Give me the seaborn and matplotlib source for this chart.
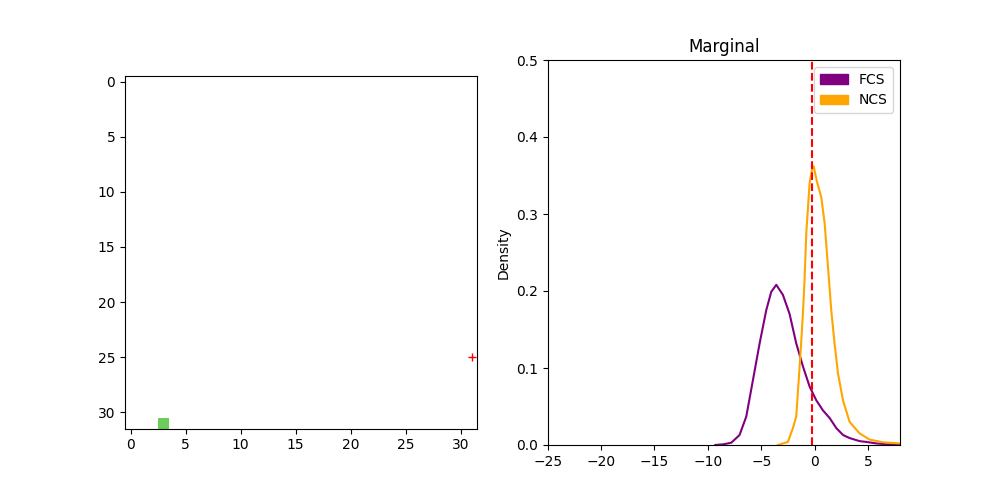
import numpy as np
import pandas as pd
import matplotlib
matplotlib.use("Agg")
import matplotlib.pyplot as plt
from matplotlib.patches import Patch
import seaborn as sns

# ---- data ----
grid_size = 32
goal_cell = (3, 31)          # (x, y) of coloured cell
goal_color = (108, 206, 90)
marker_point = (31, 25)       # red '+' marker

fcs_x = [-9.3, -8.5, -7.8, -7.03, -6.4, -5.78, -5.15, -4.53, -4.06, -3.59, -2.97,
         -2.34, -1.72, -1.09, -0.47, 0.16, 0.78, 1.41, 2.03, 2.66, 3.28, 4.22,
         4.84, 5.8, 6.7, 8.0]
fcs_y = [0.0, 0.001, 0.003, 0.013, 0.037, 0.084, 0.132, 0.175, 0.199, 0.208, 0.195,
         0.170, 0.132, 0.102, 0.076, 0.058, 0.045, 0.035, 0.022, 0.013, 0.009, 0.005,
         0.004, 0.002, 0.001, 0.0005]

ncs_x = [-3.44, -2.5, -2.03, -1.72, -1.56, -1.41, -1.25, -1.09, -0.94, -0.78, -0.47,
         -0.22, -0.09, 0.22, 0.62, 0.94, 1.25, 1.56, 1.87, 2.19, 2.66, 3.28, 4.22,
         5.16, 6.41, 8.0]
ncs_y = [0.0, 0.004, 0.022, 0.037, 0.07, 0.10, 0.135, 0.172, 0.215, 0.275, 0.34,
         0.359, 0.362, 0.342, 0.322, 0.288, 0.232, 0.175, 0.132, 0.093, 0.058, 0.030,
         0.015, 0.007, 0.0035, 0.002]

threshold = -0.28
series_names = ["FCS", "NCS"]
series_colors = ["purple", "orange"]

# ---- figure ----
fig, (ax1, ax2) = plt.subplots(1, 2, figsize=(10, 5), dpi=100)

img = np.ones((grid_size, grid_size, 3))
img[goal_cell[1], goal_cell[0]] = np.array(goal_color) / 255.0
ax1.imshow(img)
ax1.plot(marker_point[0], marker_point[1], "r+")

df_f = pd.DataFrame({"x": fcs_x, "y": fcs_y})
df_n = pd.DataFrame({"x": ncs_x, "y": ncs_y})
sns.lineplot(data=df_f, x="x", y="y", color=series_colors[0], sort=False, ax=ax2, lw=1.5)
sns.lineplot(data=df_n, x="x", y="y", color=series_colors[1], sort=False, ax=ax2, lw=1.5)
ax2.axvline(threshold, color="red", linestyle="--")
ax2.set_xlim(-25, 8)
ax2.set_ylim(0, 0.5)
ax2.set_xlabel("")
ax2.set_ylabel("Density")
ax2.set_title("Marginal")
handles = [Patch(color=c, label=n) for c, n in zip(series_colors, series_names)]
ax2.legend(handles=handles, loc="upper right")

fig.savefig("out.png")
